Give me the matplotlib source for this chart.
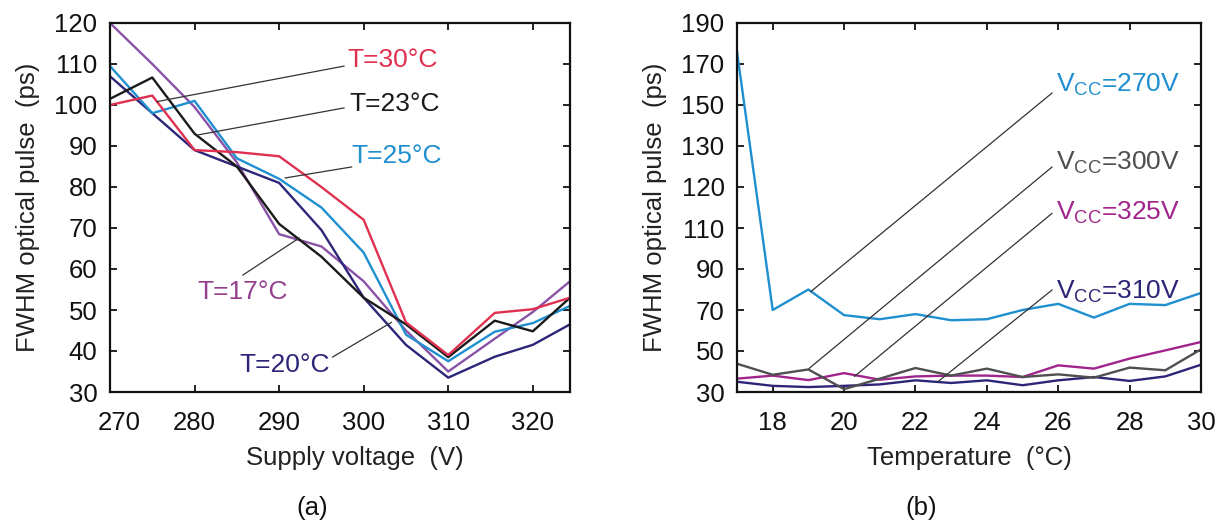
import numpy as np
import matplotlib
matplotlib.use("Agg")
import matplotlib.pyplot as plt
import matplotlib.transforms as mtransforms

plt.rcParams['font.family'] = ['Liberation Sans', 'DejaVu Sans']
plt.rcParams['mathtext.fontset'] = 'custom'
plt.rcParams['mathtext.rm'] = 'Liberation Sans'
plt.rcParams['mathtext.it'] = 'Liberation Sans:italic'
plt.rcParams['mathtext.bf'] = 'Liberation Sans:bold'

# ---------------- data: panel (a) ----------------
voltage = [270, 275, 280, 285, 290, 295, 300, 305, 310, 315.5, 320, 324.4]
t30 = [100, 102.3, 89, 88.5, 87.5, 80, 72, 47, 39, 49.3, 50.2, 53]
t23 = [101.5, 106.7, 93, 85, 71, 63, 53, 46.5, 38.5, 47.4, 44.8, 53]
t25 = [109.5, 98, 101, 87, 82, 75, 64, 44, 37.5, 44.7, 46.8, 51]
t17 = [120, 110, 99.5, 86, 68.5, 65.5, 57, 45, 35, 43, 49.5, 57]
t20 = [107, 98, 89, 85, 81, 69.5, 53, 41.5, 33.5, 38.6, 41.5, 46.5]

# ---------------- data: panel (b) ----------------
temperature = [17, 18, 19, 20, 21, 22, 23, 24, 25, 26, 27, 28, 29, 30]
v270 = [176, 70, 80, 67.5, 65.5, 68, 65, 65.5, 70, 73, 66.3, 73, 72.4, 78.3]
v300 = [43.8, 38.4, 41, 31.4, 36.5, 41.7, 38, 41.4, 37.3, 38.6, 37, 41.9, 40.6, 50.8]
v325 = [36.5, 38, 35.8, 39.2, 36, 37.6, 38, 38, 37.3, 43, 41.4, 46.3, 50.3, 54.4]
v310 = [35, 33, 32.4, 33, 33.7, 35.7, 34.4, 35.7, 33.3, 35.7, 37.3, 35.4, 37.6, 43.3]

left_yticks = [30, 40, 50, 60, 70, 80, 90, 100, 110, 120]
left_xticks = [270, 280, 290, 300, 310, 320]
right_ytick_labels = [30, 50, 70, 90, 110, 120, 130, 150, 170, 190]
right_xticks = [18, 20, 22, 24, 26, 28, 30]

RED = '#e0304f'
BLACK = '#1a1a1a'
BLUE = '#1f8fd0'
PURPLE = '#8a52a6'
NAVY = '#2c2578'
GRAY = '#4f4f4f'
MAGENTA = '#a0248c'

W, H = 1223, 527
fig = plt.figure(figsize=(W/100, H/100), dpi=100)
axa = fig.add_axes([110/W, (H-392)/H, (570-110)/W, 369/H])
axb = fig.add_axes([737/W, (H-392)/H, (1201-737)/W, 369/H])

LW = 1.7
TICKFS = 18.5
LABFS = 18.5
ANNFS = 19

def style(ax):
    for s in ax.spines.values():
        s.set_linewidth(1.6)
        s.set_color('#111111')
    ax.tick_params(direction='in', top=True, right=True, length=5, width=1.3,
                   labelsize=TICKFS, colors='#111111')
    ax.tick_params(axis='x', pad=14)
    ax.tick_params(axis='y', pad=9)

# ---- panel (a)
axa.plot(voltage, t17, color=PURPLE, lw=LW)
axa.plot(voltage, t20, color=NAVY, lw=LW)
axa.plot(voltage, t25, color=BLUE, lw=LW)
axa.plot(voltage, t23, color=BLACK, lw=LW)
axa.plot(voltage, t30, color=RED, lw=LW)
axa.set_xlim(270, 324.4)
axa.set_ylim(30, 120)
axa.set_xticks(left_xticks)
axa.set_xticklabels([''] + [str(v) for v in left_xticks[1:]])
axa.set_yticks(left_yticks)
style(axa)
# first x tick label sits slightly to the right of the axis corner
axa.text(left_xticks[0], 0, str(left_xticks[0]), fontsize=TICKFS, color='#111111',
         ha='center', va='top',
         transform=axa.get_xaxis_transform() + mtransforms.ScaledTranslation(9/100, -19/100, fig.dpi_scale_trans))
axa.set_xlabel('Supply voltage  (V)', fontsize=LABFS, color='#222222', labelpad=7)
axa.xaxis.set_label_coords((355-110)/(570-110), -0.145)
axa.set_ylabel('FWHM optical pulse  (ps)', fontsize=LABFS, color='#222222', labelpad=10)

lk = dict(arrowstyle='-', color='#333333', lw=0.9, shrinkA=0, shrinkB=0)
def leader(ax, xy, xytext):
    ax.annotate('', xy=xy, xytext=xytext, arrowprops=lk)

leader(axa, (275.5, 100.8), (297.7, 109.5))
leader(axa, (280.4, 92.7), (297.7, 99.3))
leader(axa, (290.7, 82.2), (298.6, 84.9))
leader(axa, (292.4, 67.6), (285.7, 58.5))
leader(axa, (303.3, 47.0), (296.3, 38.5))
axa.text(298.1, 111.0, 'T=30°C', color=RED, fontsize=ANNFS, ha='left', va='center')
axa.text(298.3, 100.3, 'T=23°C', color=BLACK, fontsize=ANNFS, ha='left', va='center')
axa.text(298.6, 87.5, 'T=25°C', color=BLUE, fontsize=ANNFS, ha='left', va='center')
axa.text(280.3, 54.4, 'T=17°C', color='#94408f', fontsize=ANNFS, ha='left', va='center')
axa.text(285.3, 36.6, 'T=20°C', color=NAVY, fontsize=ANNFS, ha='left', va='center')

# ---- panel (b): tick labels are unevenly spaced in value but evenly spaced on the axis
positions = [30, 50, 70, 90, 110, 130, 150, 170, 190, 210]
fwd = lambda v: np.interp(v, right_ytick_labels, positions)
inv = lambda p: np.interp(p, positions, right_ytick_labels)
axb.set_yscale('function', functions=(fwd, inv))

axb.plot(temperature, v310, color=NAVY, lw=LW)
axb.plot(temperature, v325, color=MAGENTA, lw=LW)
axb.plot(temperature, v300, color=GRAY, lw=LW)
axb.plot(temperature, v270, color=BLUE, lw=LW)
axb.set_xlim(17, 30)
axb.set_ylim(30, 190)
axb.set_xticks(right_xticks)
axb.set_yticks(right_ytick_labels)
axb.set_yticklabels([str(v) for v in right_ytick_labels])
axb.minorticks_off()
style(axb)
axb.set_xlabel('Temperature  (°C)', fontsize=LABFS, color='#222222', labelpad=7)
axb.xaxis.set_label_coords(0.5, -0.145)
axb.set_ylabel('FWHM optical pulse  (ps)', fontsize=LABFS, color='#222222', labelpad=10)

leader(axb, (19.07, 79.0), (25.83, 155.9))
leader(axb, (19.02, 41.5), (25.83, 124.9))
leader(axb, (20.29, 37.6), (25.83, 113.6))
leader(axb, (22.62, 34.9), (25.83, 79.8))
axb.text(25.95, 159.8, 'V$_{\\mathrm{CC}}$=270V', color=BLUE, fontsize=ANNFS, ha='left', va='center')
axb.text(25.95, 125.9, 'V$_{\\mathrm{CC}}$=300V', color=GRAY, fontsize=ANNFS, ha='left', va='center')
axb.text(25.95, 113.8, 'V$_{\\mathrm{CC}}$=325V', color=MAGENTA, fontsize=ANNFS, ha='left', va='center')
axb.text(25.95, 78.8, 'V$_{\\mathrm{CC}}$=310V', color=NAVY, fontsize=ANNFS, ha='left', va='center')

fig.text(312/W, 1 - 508/H, '(a)', fontsize=LABFS, ha='center', va='center', color='#111111')
fig.text(921/W, 1 - 508/H, '(b)', fontsize=LABFS, ha='center', va='center', color='#111111')

fig.savefig('out.png', dpi=100)
